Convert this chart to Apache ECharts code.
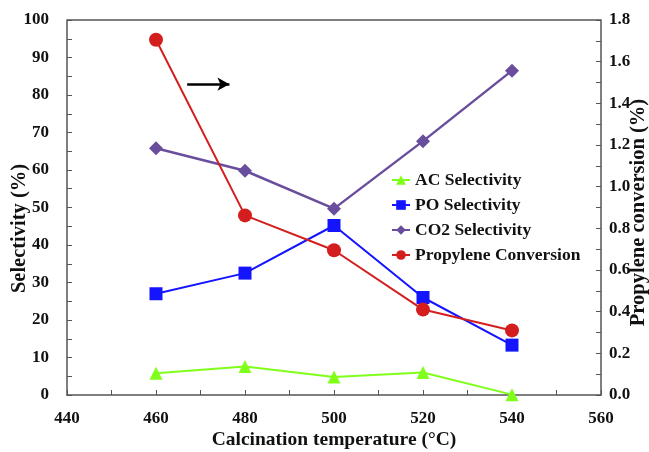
<!DOCTYPE html>
<html>
<head>
<meta charset="utf-8">
<script src="https://cdn.jsdelivr.net/npm/echarts@6/dist/echarts.min.js"></script>
<style>
  html, body { margin: 0; padding: 0; background: #fff; }
  #chart { width: 649px; height: 452px; }
</style>
</head>
<body>
<div id="chart"></div>
<script>
// calcination temperatures (°C)
const temps = [460, 480, 500, 520, 540]
// selectivities (%), left axis
const acSel = [5.8, 7.6, 4.8, 6.0, 0.1]
const poSel = [27.0, 32.5, 45.2, 26.0, 13.3]
const co2Sel = [65.8, 59.8, 49.7, 67.7, 86.5]
// propylene conversion (%), right axis
const propConv = [1.705, 0.862, 0.695, 0.41, 0.31]

const font = 'Liberation Serif, Times New Roman, serif'
const axisColor = '#555'

const pairs = vals => temps.map((t, i) => [t, vals[i]])

const chart = echarts.init(document.getElementById('chart'))

const yCommon = {
  axisLine: {show: true, lineStyle: {color: axisColor, width: 1.5}},
  axisTick: {show: true, inside: true, length: 5, lineStyle: {color: axisColor}},
  minorTick: {show: true, splitNumber: 2, length: 5, lineStyle: {color: axisColor}},
  splitLine: {show: false},
  nameLocation: 'middle',
  nameMoveOverlap: false,
  axisLabel: {fontFamily: font, fontWeight: 'bold', fontSize: 17, color: '#111'}
}

chart.setOption({
  animation: false,
  grid: {left: 67, right: 48, top: 20, bottom: 57, outerBoundsMode: 'none'},
  legend: {
    orient: 'vertical',
    left: 391,
    top: 171,
    padding: 0,
    itemGap: 7,
    itemWidth: 18,
    itemHeight: 12,
    textStyle: {fontFamily: font, fontWeight: 'bold', fontSize: 17.5, color: '#111'},
    data: ['AC Selectivity', 'PO Selectivity', 'CO2 Selectivity', 'Propylene Conversion']
  },
  xAxis: {
    type: 'value',
    min: 440,
    max: 560,
    interval: 20,
    name: 'Calcination temperature (°C)',
    nameLocation: 'middle',
    nameMoveOverlap: false,
    nameGap: 35,
    nameTextStyle: {fontFamily: font, fontWeight: 'bold', fontSize: 19.5, color: '#111'},
    axisLine: {show: true, lineStyle: {color: axisColor, width: 1.5}},
    axisTick: {show: true, inside: true, length: 5, lineStyle: {color: axisColor}},
    minorTick: {show: true, splitNumber: 2, length: 5, lineStyle: {color: axisColor}},
    splitLine: {show: false},
    axisLabel: {fontFamily: font, fontWeight: 'bold', fontSize: 17, color: '#111', margin: 15}
  },
  yAxis: [
    Object.assign({}, yCommon, {
      type: 'value',
      min: 0,
      max: 100,
      interval: 10,
      name: 'Selectivity (%)',
      nameGap: 37,
      nameTextStyle: {fontFamily: font, fontWeight: 'bold', fontSize: 20.5, color: '#111', padding: [0, 42, 0, 0]},
      axisLabel: Object.assign({}, yCommon.axisLabel, {margin: 18})
    }),
    Object.assign({}, yCommon, {
      type: 'value',
      min: 0,
      max: 1.8,
      interval: 0.2,
      position: 'right',
      name: 'Propylene conversion (%)',
      nameGap: 27,
      nameRotate: 90,
      nameTextStyle: {fontFamily: font, fontWeight: 'bold', fontSize: 20.5, color: '#111', padding: [0, 10, 0, 0]},
      axisLabel: Object.assign({}, yCommon.axisLabel, {
        margin: 8,
        formatter: v => v.toFixed(1)
      })
    })
  ],
  graphic: [{
    type: 'line',
    shape: {x1: 67, y1: 20, x2: 601, y2: 20},
    style: {stroke: axisColor, lineWidth: 1.5},
    silent: true
  }],
  series: [
    {
      name: 'AC Selectivity',
      type: 'line',
      data: pairs(acSel),
      symbol: 'triangle',
      symbolSize: 13,
      color: '#80ff1a',
      lineStyle: {width: 2},
      z: 3
    },
    {
      name: 'PO Selectivity',
      type: 'line',
      data: pairs(poSel),
      symbol: 'rect',
      symbolSize: 13,
      color: '#1414ff',
      lineStyle: {width: 2},
      z: 3
    },
    {
      name: 'CO2 Selectivity',
      type: 'line',
      data: pairs(co2Sel),
      symbol: 'diamond',
      symbolSize: 14,
      color: '#6a4e9e',
      lineStyle: {width: 2.5},
      z: 3,
      markLine: {
        silent: true,
        symbol: ['none', 'arrow'],
        symbolSize: [10, 12],
        label: {show: false},
        lineStyle: {color: '#000', width: 2.5, type: 'solid'},
        data: [[{coord: [467, 82.9]}, {coord: [476.5, 82.9]}]]
      }
    },
    {
      name: 'Propylene Conversion',
      type: 'line',
      yAxisIndex: 1,
      data: pairs(propConv),
      symbol: 'circle',
      symbolSize: 14,
      color: '#d41e1e',
      lineStyle: {width: 2},
      z: 4
    }
  ]
})
</script>
</body>
</html>
